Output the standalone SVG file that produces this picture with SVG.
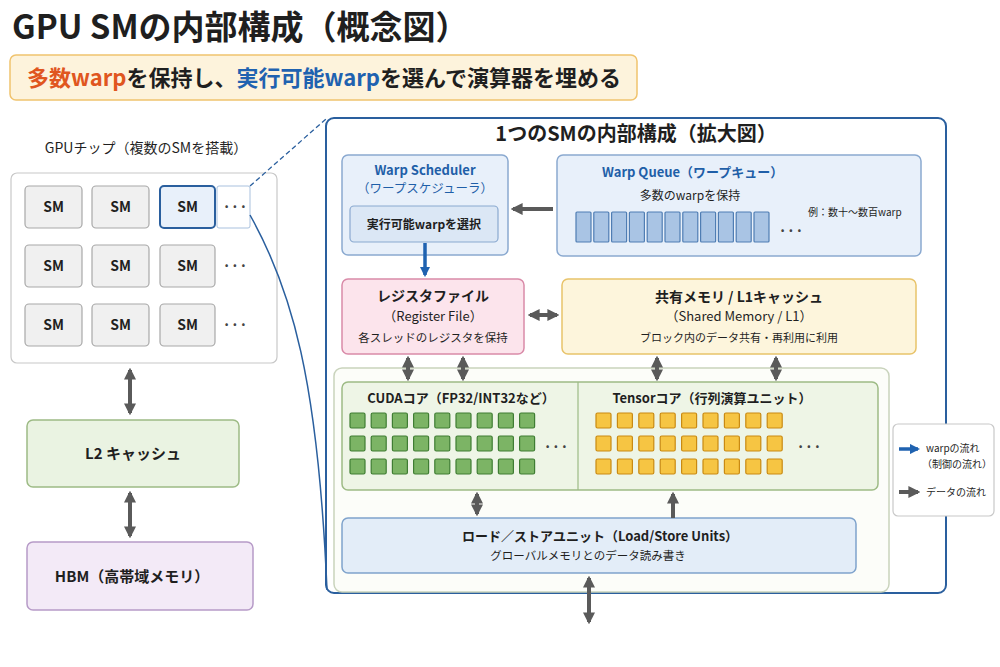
<svg xmlns="http://www.w3.org/2000/svg" width="1000" height="667" viewBox="0 0 1000 667">
<defs>
<style>
text{font-family:"Noto Sans CJK JP","Noto Sans",sans-serif;fill:#1f1f1f}
.b{font-weight:bold}
.blue{fill:#1f5fa8}
.sm rect{fill:#f0f0f0;stroke:#a8a8a8;stroke-width:1.2}
.sm text{font-size:14px;font-weight:bold;text-anchor:middle}
.dots{font-size:14px;font-weight:bold;text-anchor:middle;fill:#444}
.g{fill:#7cb465;stroke:#3f7d33;stroke-width:1.2}
.o{fill:#f6c543;stroke:#c98a12;stroke-width:1.2}
.q{fill:#a9c4e4;stroke:#4f7db3;stroke-width:1.2}
.data{stroke:#5a5a5a;stroke-width:4;fill:none}
.ctl{stroke:#1f62b0;stroke-width:3.5;fill:none}
.c{text-anchor:middle}
</style>
<marker id="ah" viewBox="0 0 10 10" refX="8" refY="5" markerWidth="3" markerHeight="3" orient="auto-start-reverse" markerUnits="strokeWidth"><path d="M0,0 L10,5 L0,10 z" fill="#5a5a5a"/></marker>
<marker id="bh" viewBox="0 0 10 10" refX="8" refY="5" markerWidth="3" markerHeight="3" orient="auto-start-reverse" markerUnits="strokeWidth"><path d="M0,0 L10,5 L0,10 z" fill="#1f62b0"/></marker>
</defs>
<rect width="1000" height="667" fill="#ffffff"/>

<g id="title">
<text x="12" y="39" font-size="33" class="b">GPU SMの内部構成（概念図）</text>
</g>
<g id="subtitle">
<rect x="10" y="55" width="627" height="45" rx="6" fill="#fdf3dc" stroke="#f0c36d" stroke-width="1.5"/>
<text x="27" y="86" font-size="22" class="b"><tspan fill="#e0561f">多数warp</tspan><tspan>を保持し、</tspan><tspan fill="#1f62b0">実行可能warp</tspan><tspan>を選んで演算器を埋める</tspan></text>
</g>

<g id="gpu-chip">
<text x="146" y="153" font-size="14" class="c">GPUチップ（複数のSMを搭載）</text>
<rect x="11" y="173" width="266" height="190" rx="6" fill="#ffffff" stroke="#c8c8c8" stroke-width="1.2"/>
<g class="sm">
<rect x="25" y="186" width="57" height="42" rx="4"/><text x="53.5" y="212">SM</text>
<rect x="92" y="186" width="57" height="42" rx="4"/><text x="120.5" y="212">SM</text>
<rect x="25" y="245" width="57" height="42" rx="4"/><text x="53.5" y="271">SM</text>
<rect x="92" y="245" width="57" height="42" rx="4"/><text x="120.5" y="271">SM</text>
<rect x="160" y="245" width="55" height="42" rx="4"/><text x="187.5" y="271">SM</text>
<rect x="25" y="304" width="57" height="42" rx="4"/><text x="53.5" y="330">SM</text>
<rect x="92" y="304" width="57" height="42" rx="4"/><text x="120.5" y="330">SM</text>
<rect x="160" y="304" width="55" height="42" rx="4"/><text x="187.5" y="330">SM</text>
</g>
<g id="sm-selected" class="sm">
<rect x="160" y="186" width="55" height="42" rx="4" style="fill:#e8f0fa;stroke:#2a5f9e;stroke-width:2"/><text x="187.5" y="212">SM</text>
</g>
<rect x="217" y="186" width="33" height="42" rx="2" fill="#ffffff" stroke="#a9c1de" stroke-width="1"/>
<text x="235" y="212" class="dots">···</text>
<text x="235" y="271" class="dots">···</text>
<text x="235" y="330" class="dots">···</text>
</g>

<g id="l2">
<rect x="27" y="420" width="212" height="67" rx="6" fill="#eaf3e2" stroke="#9dbb85" stroke-width="1.5"/>
<text x="133" y="459" font-size="15" class="b c">L2 キャッシュ</text>
</g>
<g id="hbm">
<rect x="27" y="542" width="226" height="68" rx="6" fill="#f3eaf7" stroke="#b79bc8" stroke-width="1.5"/>
<text x="132" y="582" font-size="15" class="b c">HBM（高帯域メモリ）</text>
</g>

<g id="sm-detail">
<rect x="326" y="118" width="620" height="475" rx="8" fill="#ffffff" stroke="#2a5f9e" stroke-width="2"/>
<text x="636" y="141" font-size="20" class="b c">1つのSMの内部構成（拡大図）</text>
</g>

<g id="compute-area">
<rect x="334" y="368" width="555" height="224" rx="8" fill="#fcfdf9" stroke="#c9d3bc" stroke-width="1.5"/>
</g>

<g id="warp-scheduler">
<rect x="342" y="155" width="166" height="100" rx="6" fill="#e8f0fa" stroke="#8aa9d0" stroke-width="1.5"/>
<text x="425" y="175" font-size="13" class="b c blue">Warp Scheduler</text>
<text x="425" y="193" font-size="12.5" class="c blue">（ワープスケジューラ）</text>
<rect x="350" y="206" width="148" height="36" rx="4" fill="#dbe7f5" stroke="#8aa9d0" stroke-width="1.2"/>
<text x="424" y="229" font-size="12" class="b c">実行可能warpを選択</text>
</g>

<g id="warp-queue">
<rect x="557" y="155" width="364" height="101" rx="6" fill="#e8f0fa" stroke="#8aa9d0" stroke-width="1.5"/>
<text x="602" y="177" font-size="13" class="b blue">Warp Queue（ワープキュー）</text>
<text x="690" y="200" font-size="12" class="c">多数のwarpを保持</text>
<rect class="q" x="576" y="212" width="15" height="30" rx="1"/>
<rect class="q" x="593.8" y="212" width="15" height="30" rx="1"/>
<rect class="q" x="611.6" y="212" width="15" height="30" rx="1"/>
<rect class="q" x="629.4" y="212" width="15" height="30" rx="1"/>
<rect class="q" x="647.2" y="212" width="15" height="30" rx="1"/>
<rect class="q" x="665" y="212" width="15" height="30" rx="1"/>
<rect class="q" x="682.8" y="212" width="15" height="30" rx="1"/>
<rect class="q" x="700.6" y="212" width="15" height="30" rx="1"/>
<rect class="q" x="718.4" y="212" width="15" height="30" rx="1"/>
<rect class="q" x="736.2" y="212" width="15" height="30" rx="1"/>
<rect class="q" x="754" y="212" width="15" height="30" rx="1"/>
<text x="791" y="236" class="dots">···</text>
<text x="808" y="216" font-size="10">例：数十〜数百warp</text>
</g>

<g id="register-file">
<rect x="342" y="279" width="182" height="75" rx="6" fill="#fce4ec" stroke="#d98aa8" stroke-width="1.5"/>
<text x="433" y="301" font-size="14" class="b c">レジスタファイル</text>
<text x="433" y="321" font-size="13" class="c">（Register File）</text>
<text x="433" y="342" font-size="11.5" class="c">各スレッドのレジスタを保持</text>
</g>

<g id="shared-memory">
<rect x="562" y="279" width="354" height="75" rx="6" fill="#fdf5dc" stroke="#e8c36a" stroke-width="1.5"/>
<text x="739" y="302" font-size="14" class="b c">共有メモリ / L1キャッシュ</text>
<text x="739" y="321" font-size="13" class="c">（Shared Memory / L1）</text>
<text x="739" y="342" font-size="11" class="c">ブロック内のデータ共有・再利用に利用</text>
</g>

<g id="cores">
<rect x="342" y="382" width="536" height="108" rx="6" fill="#eef5e6" stroke="#9dbb85" stroke-width="1.5"/>
<line x1="578" y1="382" x2="578" y2="490" stroke="#9dbb85" stroke-width="1.2"/>
</g>
<g id="cuda-cores">
<text x="461" y="403" font-size="13" class="b c">CUDAコア（FP32/INT32など）</text>
<g id="cuda-grid">
<rect class="g" x="350" y="413" width="15" height="15" rx="1.5"/><rect class="g" x="371.2" y="413" width="15" height="15" rx="1.5"/><rect class="g" x="392.4" y="413" width="15" height="15" rx="1.5"/><rect class="g" x="413.6" y="413" width="15" height="15" rx="1.5"/><rect class="g" x="434.8" y="413" width="15" height="15" rx="1.5"/><rect class="g" x="456" y="413" width="15" height="15" rx="1.5"/><rect class="g" x="477.2" y="413" width="15" height="15" rx="1.5"/><rect class="g" x="498.4" y="413" width="15" height="15" rx="1.5"/><rect class="g" x="519.6" y="413" width="15" height="15" rx="1.5"/>
<rect class="g" x="350" y="436" width="15" height="15" rx="1.5"/><rect class="g" x="371.2" y="436" width="15" height="15" rx="1.5"/><rect class="g" x="392.4" y="436" width="15" height="15" rx="1.5"/><rect class="g" x="413.6" y="436" width="15" height="15" rx="1.5"/><rect class="g" x="434.8" y="436" width="15" height="15" rx="1.5"/><rect class="g" x="456" y="436" width="15" height="15" rx="1.5"/><rect class="g" x="477.2" y="436" width="15" height="15" rx="1.5"/><rect class="g" x="498.4" y="436" width="15" height="15" rx="1.5"/><rect class="g" x="519.6" y="436" width="15" height="15" rx="1.5"/>
<rect class="g" x="350" y="459" width="15" height="15" rx="1.5"/><rect class="g" x="371.2" y="459" width="15" height="15" rx="1.5"/><rect class="g" x="392.4" y="459" width="15" height="15" rx="1.5"/><rect class="g" x="413.6" y="459" width="15" height="15" rx="1.5"/><rect class="g" x="434.8" y="459" width="15" height="15" rx="1.5"/><rect class="g" x="456" y="459" width="15" height="15" rx="1.5"/><rect class="g" x="477.2" y="459" width="15" height="15" rx="1.5"/><rect class="g" x="498.4" y="459" width="15" height="15" rx="1.5"/><rect class="g" x="519.6" y="459" width="15" height="15" rx="1.5"/>
</g>
<text x="556" y="452" class="dots">···</text>
</g>
<g id="tensor-cores">
<text x="712" y="403" font-size="13" class="b c">Tensorコア（行列演算ユニット）</text>
<g id="tensor-grid">
<rect class="o" x="596" y="413" width="15" height="15" rx="1.5"/><rect class="o" x="617.4" y="413" width="15" height="15" rx="1.5"/><rect class="o" x="638.8" y="413" width="15" height="15" rx="1.5"/><rect class="o" x="660.2" y="413" width="15" height="15" rx="1.5"/><rect class="o" x="681.6" y="413" width="15" height="15" rx="1.5"/><rect class="o" x="703" y="413" width="15" height="15" rx="1.5"/><rect class="o" x="724.4" y="413" width="15" height="15" rx="1.5"/><rect class="o" x="745.8" y="413" width="15" height="15" rx="1.5"/><rect class="o" x="767.2" y="413" width="15" height="15" rx="1.5"/>
<rect class="o" x="596" y="436" width="15" height="15" rx="1.5"/><rect class="o" x="617.4" y="436" width="15" height="15" rx="1.5"/><rect class="o" x="638.8" y="436" width="15" height="15" rx="1.5"/><rect class="o" x="660.2" y="436" width="15" height="15" rx="1.5"/><rect class="o" x="681.6" y="436" width="15" height="15" rx="1.5"/><rect class="o" x="703" y="436" width="15" height="15" rx="1.5"/><rect class="o" x="724.4" y="436" width="15" height="15" rx="1.5"/><rect class="o" x="745.8" y="436" width="15" height="15" rx="1.5"/><rect class="o" x="767.2" y="436" width="15" height="15" rx="1.5"/>
<rect class="o" x="596" y="459" width="15" height="15" rx="1.5"/><rect class="o" x="617.4" y="459" width="15" height="15" rx="1.5"/><rect class="o" x="638.8" y="459" width="15" height="15" rx="1.5"/><rect class="o" x="660.2" y="459" width="15" height="15" rx="1.5"/><rect class="o" x="681.6" y="459" width="15" height="15" rx="1.5"/><rect class="o" x="703" y="459" width="15" height="15" rx="1.5"/><rect class="o" x="724.4" y="459" width="15" height="15" rx="1.5"/><rect class="o" x="745.8" y="459" width="15" height="15" rx="1.5"/><rect class="o" x="767.2" y="459" width="15" height="15" rx="1.5"/>
</g>
<text x="809" y="452" class="dots">···</text>
</g>

<g id="load-store">
<rect x="342" y="518" width="514" height="55" rx="6" fill="#e3edf8" stroke="#7fa3cc" stroke-width="1.5"/>
<text x="600" y="541" font-size="13" class="b c">ロード／ストアユニット（Load/Store Units）</text>
<text x="588" y="560" font-size="11.5" class="c">グローバルメモリとのデータ読み書き</text>
</g>

<g id="legend">
<rect x="893" y="424" width="101" height="92" rx="5" fill="#ffffff" stroke="#c8c8c8" stroke-width="1.2"/>
<line class="ctl" x1="899" y1="449" x2="918" y2="449" marker-end="url(#bh)"/>
<text x="926" y="452" font-size="10">warpの流れ</text>
<text x="922" y="468" font-size="10">（制御の流れ）</text>
<line class="data" x1="899" y1="492" x2="918" y2="492" marker-end="url(#ah)"/>
<text x="926" y="496" font-size="10">データの流れ</text>
</g>

<g id="connectors">
<line x1="250" y1="186" x2="326" y2="119" stroke="#2a5f9e" stroke-width="1.3" stroke-dasharray="5,3"/>
<path d="M250,215 C292,290 318,380 327,590" fill="none" stroke="#2a5f9e" stroke-width="1.5"/>
<line class="data" x1="130" y1="370" x2="130" y2="413" marker-start="url(#ah)" marker-end="url(#ah)"/>
<line class="data" x1="130" y1="493" x2="130" y2="536" marker-start="url(#ah)" marker-end="url(#ah)"/>
<line class="data" x1="553" y1="209" x2="513" y2="209" marker-end="url(#ah)"/>
<line class="ctl" x1="425" y1="243" x2="425" y2="275" marker-end="url(#bh)"/>
<line class="data" x1="530" y1="315" x2="557" y2="315" marker-start="url(#ah)" marker-end="url(#ah)"/>
<line class="data" x1="408" y1="358" x2="408" y2="379" stroke-width="3" marker-start="url(#ah)" marker-end="url(#ah)"/>
<line class="data" x1="463" y1="358" x2="463" y2="379" stroke-width="3" marker-start="url(#ah)" marker-end="url(#ah)"/>
<line class="data" x1="657" y1="358" x2="657" y2="379" stroke-width="3" marker-start="url(#ah)" marker-end="url(#ah)"/>
<line class="data" x1="776" y1="358" x2="776" y2="379" stroke-width="3" marker-start="url(#ah)" marker-end="url(#ah)"/>
<line class="data" x1="477" y1="494" x2="477" y2="514" stroke-width="3" marker-start="url(#ah)" marker-end="url(#ah)"/>
<line class="data" x1="673" y1="494" x2="673" y2="518" stroke-width="3" marker-start="url(#ah)"/>
<line class="data" x1="589" y1="578" x2="589" y2="622" marker-start="url(#ah)" marker-end="url(#ah)"/>
</g>
</svg>
